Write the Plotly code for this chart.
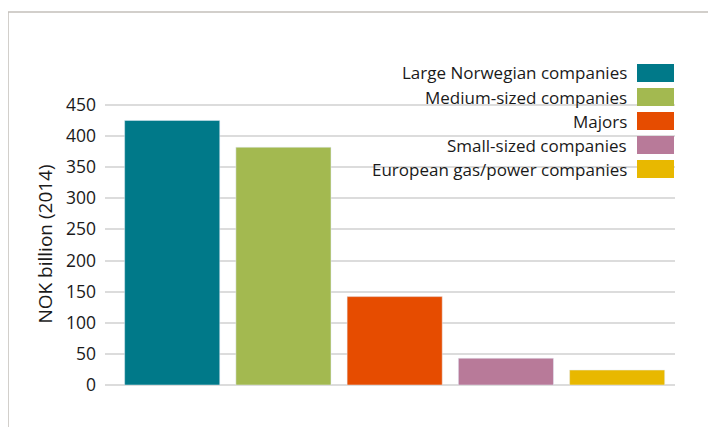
import plotly.graph_objects as go

categories = ["Large Norwegian companies", "Medium-sized companies", "Majors",
              "Small-sized companies", "European gas/power companies"]
values = [425, 382, 142, 43, 24]
colors = ["#007989", "#a3b950", "#e64c00", "#b87a99", "#e8b800"]
tick_vals = [0, 50, 100, 150, 200, 250, 300, 350, 400, 450]
y_title = "NOK billion (2014)"

W, H = 716, 427
OFF = 8  # page body margin offset
L, R, T, B = 97, 49, 95, 50
pw, ph = W - L - R, H - T - B

def px_x(x):
    return (x - OFF - L) / pw

def px_y(y):
    return (H - B - (y - OFF)) / ph

fig = go.Figure()
for c, v, col in zip(categories, values, colors):
    fig.add_trace(go.Bar(x=[c], y=[v], marker_color=col, name=c, showlegend=False))

shapes = []
annotations = []
row0, step = 73, 24.0
for i, (c, col) in enumerate(zip(categories, colors)):
    yc = row0 + i * step
    shapes.append(dict(type="rect", xref="paper", yref="paper",
                       x0=px_x(637), x1=px_x(674), y0=px_y(yc - 9), y1=px_y(yc + 9),
                       fillcolor=col, line=dict(width=0)))
    annotations.append(dict(text=c, xref="paper", yref="paper", x=px_x(629), y=px_y(yc),
                            xanchor="right", yanchor="middle", showarrow=False,
                            font=dict(size=17, color="#1a1a1a", family="Open Sans")))

# outer frame
shapes.append(dict(type="path", xref="paper", yref="paper",
                   path=f"M {px_x(8)} {px_y(445)} L {px_x(8)} {px_y(12)} L {px_x(712)} {px_y(12)} L {px_x(712)} {px_y(445)}",
                   line=dict(color="#c3c0bb", width=1.5)))

fig.update_layout(
    width=W, height=H,
    margin=dict(l=L, r=R, t=T, b=B),
    paper_bgcolor="white", plot_bgcolor="white",
    bargap=0.145,
    font=dict(family="Open Sans", size=17, color="#1a1a1a"),
    shapes=shapes, annotations=annotations,
    xaxis=dict(showticklabels=False, showgrid=False, zeroline=False, showline=False, ticks="",
               range=[-0.604, 4.52]),
    yaxis=dict(range=[0, 453], tickvals=tick_vals, showgrid=True, gridcolor="#dcdcdc", gridwidth=2,
               zeroline=True, zerolinecolor="#dcdcdc", zerolinewidth=2,
               ticks="", ticklabelstandoff=8,
               title=dict(text=y_title, font=dict(size=19), standoff=8),
               tickfont=dict(size=17.5)),
)
fig.write_html("out.html")
